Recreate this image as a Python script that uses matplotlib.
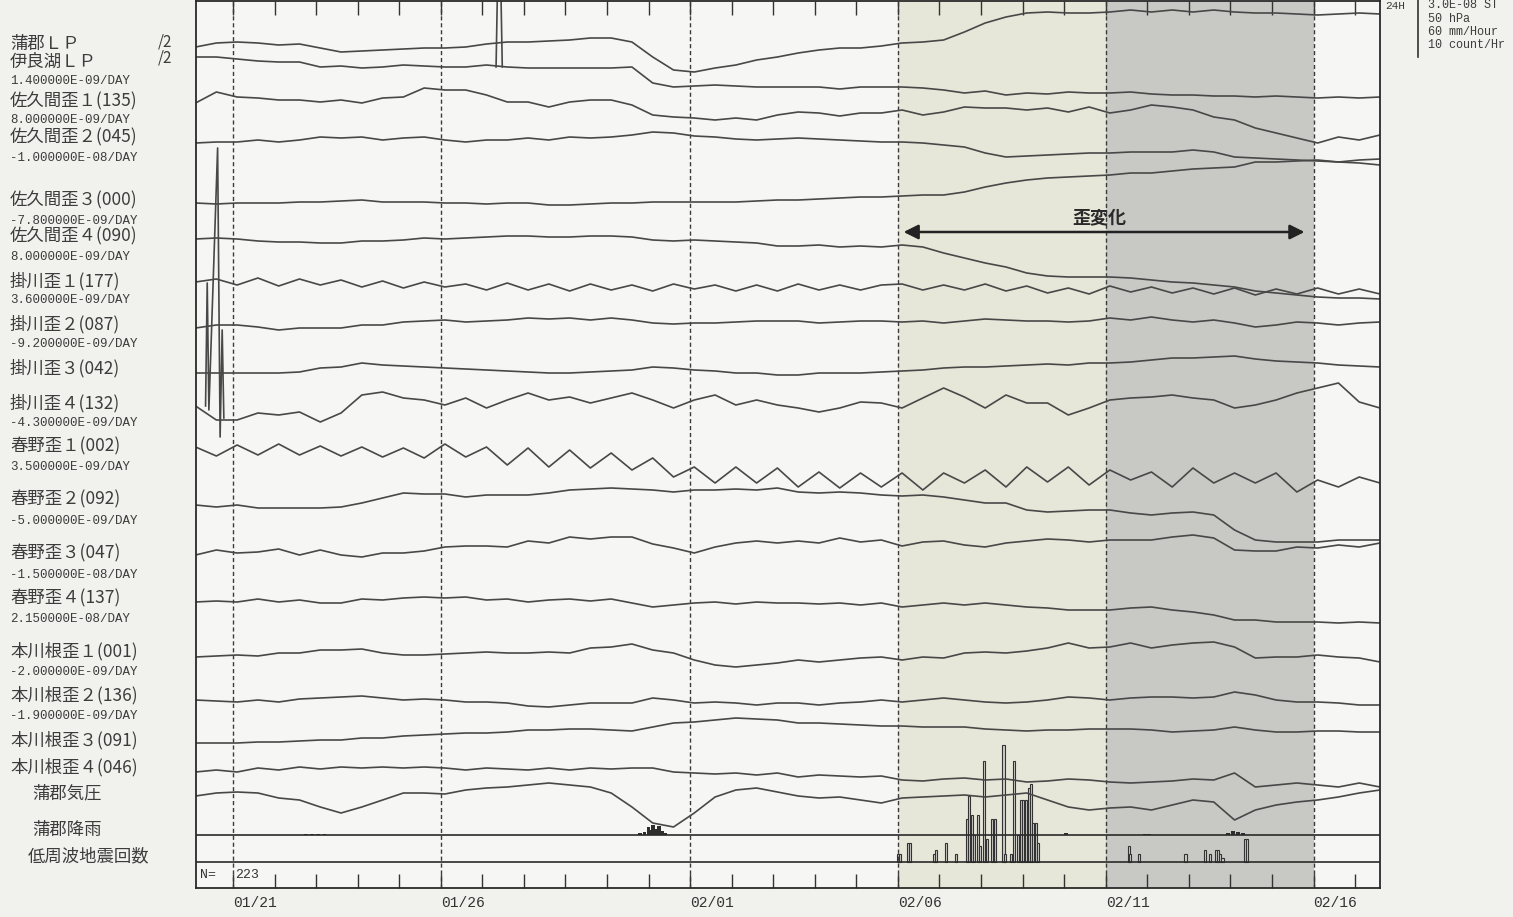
import numpy as np
import matplotlib.pyplot as plt

plt.rcParams['font.family'] = ['Noto Sans CJK JP', 'DejaVu Sans']

# sample times: days after 01/21 00:00, every 12 hours
t = np.arange(58) * 0.5 - 0.9

# trace deflections (upward positive), one list per channel
gama_lp = [0, 4, 5, 4, 2, 3, -1, -5, -4, -3, -2, -1, -1, 0, 3, 5, 5, 6, 7, 9, 9, 5, -10, -23, -25, -21, -18, -13, -10,
           -6, -3, -1, -1, 1, 4, 5, 7, 15, 24, 30, 34, 35, 34, 34, 35, 37, 35, 37, 35, 37, 35, 34, 34, 33, 32, 33, 34, 33]
irago_lp = [3, 3, 1, -1, -2, -2, -7, -6, -8, -7, -5, -6, -7, -7, -5, -7, -8, -8, -8, -8, -8, -7, -23, -27, -26, -25, -26, -27, -27,
            -27, -27, -29, -27, -27, -27, -28, -30, -33, -31, -35, -33, -34, -32, -33, -33, -32, -34, -35, -35, -36, -36, -37, -36, -37, -38, -37, -38, -37]
sakuma1 = [-3, 8, 3, 2, 0, 0, -2, 0, -3, 2, 3, 12, 10, 10, 5, -2, -2, -7, -2, 0, 0, -5, -15, -17, -18, -20, -18, -20, -15,
           -12, -13, -16, -13, -13, -10, -15, -12, -7, -8, -8, -10, -8, -12, -7, -13, -10, -5, -7, -10, -17, -20, -28, -33, -38, -43, -37, -40, -35]
sakuma2 = [0, 1, 1, 3, 1, 3, 6, 5, 6, 3, 5, 6, 3, 1, 3, 3, 5, 3, 6, 5, 6, 8, 11, 10, 7, 6, 4, 3, 4,
           5, 4, 3, 2, 1, 1, 0, -2, -4, -10, -14, -13, -12, -11, -10, -10, -9, -9, -9, -7, -9, -14, -15, -16, -17, -18, -19, -17, -16]
sakuma3 = [-1, -2, -1, -1, -1, 0, 0, 1, 2, 0, 0, 0, -1, -1, -2, -1, -1, -3, -3, -2, -1, -1, 0, 0, 0, 0, 0, 1, 2,
           2, 3, 4, 5, 5, 6, 7, 7, 10, 15, 19, 22, 24, 25, 26, 27, 29, 29, 31, 33, 34, 35, 40, 40, 41, 42, 40, 39, 37]
sakuma4 = [1, 2, 1, -1, -2, -2, -3, -3, -1, -1, 0, 2, 1, 2, 3, 4, 4, 3, 3, 4, 4, 3, 0, -1, 0, -1, -2, -3, -6,
           -6, -5, -7, -6, -7, -5, -7, -13, -18, -23, -27, -33, -36, -37, -37, -37, -38, -40, -42, -43, -45, -47, -51, -53, -55, -57, -58, -58, -59]
kake1 = [0, 3, -3, 4, -4, 3, -3, 2, -5, 1, -6, 0, -5, -2, -8, -1, -8, -2, -9, -2, -8, -3, -9, -2, -7,
         -3, -9, -3, -9, -2, -8, -3, -8, -3, -2, -8, -3, -8, -2, -9, -4, -11, -6, -12, -4,
         -10, -5, -11, -6, -12, -6, -13, -7, -12, -6, -12, -7, -12]
kake2 = [0, 3, 3, 1, -2, 0, 0, 0, 3, 3, 6, 7, 8, 6, 7, 8, 10, 9, 10, 8, 10, 8, 5, 4, 5, 5, 6, 7, 7,
         7, 5, 6, 7, 7, 6, 7, 5, 7, 9, 8, 7, 7, 6, 7, 10, 8, 11, 8, 6, 8, 5, 1, 3, 6, 5, 3, 5, 6]
kake3 = [0, 0, 0, 0, 0, 1, 5, 6, 10, 8, 7, 6, 5, 4, 3, 2, 1, 0, 0, 1, 2, 3, 6, 5, 3, 2, 0, 0, -2,
         -2, 0, 0, 0, 1, 2, 3, 5, 6, 6, 7, 8, 9, 8, 10, 10, 11, 13, 15, 15, 16, 17, 14, 12, 11, 10, 8, 7, 6]
kake4 = [4, -10, -10, -3, -5, -2, -12, -3, 15, 18, 12, 10, 5, 12, 2, 10, 17, 10, 13, 7, 12, 17, 10, 2, 10, 15, 5, 10, 5,
         2, -2, 2, 8, 7, 2, 12, 22, 13, 2, 15, 7, 7, -5, 2, 10, 12, 13, 15, 12, 10, 2, 5, 10, 17, 22, 27, 8, 2]
haruno1 = [3, -6, 5, -5, 6, -5, 4, -6, 3, -7, 2, -8, 6, -7, 3, -15, 2, -17, 0, -18, -3, -20, -8, -27, -17, -33, -17, -33, -18,
           -37, -22, -38, -23, -37, -23, -40, -23, -33, -20, -37, -17, -32, -17, -35, -20, -30, -22, -37, -18, -33, -23, -33, -23, -42, -30, -37, -27, -33]
haruno2 = [0, -2, 0, -3, -3, -3, -3, -2, 2, 7, 12, 11, 11, 8, 10, 10, 10, 12, 15, 16, 17, 16, 15, 13, 15, 15, 16, 15, 17,
           13, 12, 13, 12, 10, 9, 10, 8, 5, 2, 2, -5, -7, -6, -5, -5, -8, -10, -8, -7, -10, -25, -35, -37, -37, -37, -35, -35, -35]
haruno3 = [0, 5, 2, 3, 6, 0, 5, 0, -2, 2, 2, 4, 8, 9, 9, 8, 14, 12, 18, 16, 18, 18, 11, 7, 2, 8, 12, 14, 12,
           14, 12, 17, 13, 15, 9, 13, 14, 10, 8, 12, 14, 16, 15, 13, 15, 15, 15, 18, 20, 17, 5, 4, 4, 8, 7, 10, 8, 12]
haruno4 = [0, 1, 0, 3, 0, 2, -1, -1, 3, 2, 4, 5, 4, 5, 2, 3, 0, 2, 3, 1, 3, -1, -5, -3, -1, 0, -2, 0, -1,
           -1, -2, -1, -3, -1, -5, -3, -1, -3, -1, -3, -5, -6, -8, -8, -8, -6, -5, -8, -10, -13, -18, -18, -20, -20, -20, -21, -20, -21]
hon1 = [0, 1, 2, 1, 4, 4, 7, 7, 8, 4, 2, 2, 3, 4, 5, 4, 4, 5, 4, 9, 10, 13, 7, 4, -3, -8, -10, -8, -6,
        -3, -5, -3, -1, 0, -3, 0, -1, 4, 5, 4, 6, 9, 14, 9, 10, 14, 9, 12, 14, 15, 10, -1, 0, 0, 2, 0, -1, -5]
hon2 = [0, -1, -2, 0, -2, 1, 2, 3, 4, 2, 0, 1, 0, -2, -2, -3, -6, -7, -5, -3, -3, -3, 2, 0, -3, -2, -3, -5, -3,
        -3, -5, -3, -2, 0, -2, 0, 2, 0, -2, -3, -2, 0, 3, 2, 0, 2, 3, 3, 2, 3, 8, 5, 0, -2, -2, -3, -5, -5]
hon3 = [0, 0, 0, 1, 1, 2, 3, 3, 5, 5, 7, 8, 9, 10, 10, 11, 13, 13, 14, 14, 13, 12, 16, 20, 21, 23, 25, 24, 23,
        20, 20, 19, 18, 17, 17, 16, 16, 16, 14, 13, 12, 13, 13, 14, 14, 14, 13, 11, 12, 13, 16, 13, 11, 11, 12, 12, 11, 11]
hon4 = [0, 2, 0, 4, 2, 5, 3, 5, 4, 5, 4, 5, 4, 2, 4, 3, 2, 4, 2, 4, 3, 4, 4, 0, -1, -2, -1, -3, -1,
        -5, -3, -4, -5, -4, -8, -9, -7, -6, -8, -7, -10, -9, -7, -8, -10, -11, -10, -9, -7, -8, -1, -15, -13, -11, -13, -15, -11, -15]
gama_press = [-1, 2, 3, 2, -3, -5, -12, -18, -12, -5, 2, 2, 1, 5, 7, 8, 10, 12, 10, 8, 2, -12, -28, -32, -18, -2, 5, 7, 3,
              -1, -3, -2, -5, -8, -3, -2, -1, 0, -2, 0, 2, -5, -12, -15, -13, -12, -15, -10, -5, -7, -25, -15, -10, -7, -5, -2, 2, 5]

traces = [gama_lp, irago_lp, sakuma1, sakuma2, sakuma3, sakuma4, kake1, kake2, kake3, kake4,
          haruno1, haruno2, haruno3, haruno4, hon1, hon2, hon3, hon4, gama_press]

# off-scale glitch on the Irago LP channel and the pulse across the Kakegawa channels
irago_glitch_t = [6.33, 6.36, 6.45, 6.48]
irago_glitch_v = [-7, 62, 62, -7]
kake_pulse_t = [-0.66, -0.62, -0.58, -0.37, -0.31, -0.26, -0.22]
kake_pulse_v = [4, 127, 0, 262, -27, 80, -8]

# hourly rain (mm) and low-frequency event counts
rain_t = [1.75, 1.9, 2.05, 2.2, 9.8, 9.9, 10.0, 10.05, 10.1, 10.18, 10.25, 10.32, 10.4,
          20.05, 21.95, 22.05, 23.95, 24.07, 24.19, 24.31]
rain_mm = [1, 1, 1, 1, 2, 3, 8, 5, 10, 6, 9, 4, 2, 2, 1, 1, 2, 4, 3, 2]
quake_t = [16.01, 16.06, 16.25, 16.30, 16.88, 16.92, 17.16, 17.39, 17.67, 17.72, 17.78, 17.84, 17.93, 17.98,
           18.08, 18.15, 18.27, 18.34, 18.54, 18.58, 18.73, 18.80, 18.88, 18.96, 19.02, 19.09, 19.16, 19.21,
           19.26, 19.33, 19.38, 21.55, 21.59, 21.81, 22.92, 23.38, 23.52, 23.66, 23.71, 23.76, 23.81, 24.36, 24.41]
quake_n = [2, 2, 5, 5, 2, 3, 5, 2, 11, 17, 12, 7, 12, 4, 26, 6, 11, 11, 30, 2, 2, 26, 7, 16, 16, 16, 19, 20,
           10, 10, 5, 4, 2, 2, 2, 3, 2, 3, 3, 2, 1, 6, 6]
quake_total = 223

date_days = [0, 5, 11, 16, 21, 26]
date_labels = ['01/21', '01/26', '02/01', '02/06', '02/11', '02/16']

left_labels = ['蒲郡ＬＰ', '伊良湖ＬＰ', '1.400000E-09/DAY', '佐久間歪１(135)', '8.000000E-09/DAY',
               '佐久間歪２(045)', '-1.000000E-08/DAY', '佐久間歪３(000)', '-7.800000E-09/DAY',
               '佐久間歪４(090)', '8.000000E-09/DAY', '掛川歪１(177)', '3.600000E-09/DAY',
               '掛川歪２(087)', '-9.200000E-09/DAY', '掛川歪３(042)', '掛川歪４(132)', '-4.300000E-09/DAY',
               '春野歪１(002)', '3.500000E-09/DAY', '春野歪２(092)', '-5.000000E-09/DAY',
               '春野歪３(047)', '-1.500000E-08/DAY', '春野歪４(137)', '2.150000E-08/DAY',
               '本川根歪１(001)', '-2.000000E-09/DAY', '本川根歪２(136)', '-1.900000E-09/DAY',
               '本川根歪３(091)', '本川根歪４(046)']
scale_labels = ['3.0E-08 ST', '50 hPa', '60 mm/Hour', '10 count/Hr']

# ---- layout (pixels of the 1513x917 canvas) ----
W, H = 1513, 917
row_y = [47, 60, 100, 143, 202, 240, 282, 328, 373, 410, 450, 505, 555, 602, 657, 700, 743, 772, 795]
left_label_y = [44, 62, 81, 101, 120, 137, 158, 200, 221, 236, 257, 281, 300, 324, 344, 368, 403, 423,
                446, 467, 499, 521, 553, 575, 598, 619, 651, 672, 695, 716, 740, 767]
rain_base, quake_base = 835, 862
rain_px, quake_px = 1.0, 3.9

ink = '#484848'
label_ink = '#3c3c3c'
fig = plt.figure(figsize=(W / 100, H / 100), dpi=100, facecolor='#f1f1ee')
ax = fig.add_axes([196 / W, 1 - 888 / H, (1380 - 196) / W, 887 / H])
ax.set_facecolor('#f6f6f4')
ax.set_xlim(-0.89, 27.6)
ax.set_ylim(888, 1)

ax.axvspan(16, 21, color='#e6e7d8', lw=0)
ax.axvspan(21, 26, color='#c8c8c5', lw=0)
for d in date_days:
    ax.axvline(d, color='#3a3a3a', lw=1.0, ls=(0, (3, 2)))

ax.axhline(rain_base, color='#2a2a2a', lw=1.2)
ax.axhline(quake_base, color='#2a2a2a', lw=1.2)

for base, vals in zip(row_y, traces):
    ax.plot(t, base - np.array(vals), color=ink, lw=1.2)
ax.plot(irago_glitch_t, row_y[1] - np.array(irago_glitch_v), color=ink, lw=1.2)
ax.plot(kake_pulse_t, row_y[9] - np.array(kake_pulse_v), color=ink, lw=1.2)

ax.bar(rain_t, -np.array(rain_mm) * rain_px, bottom=rain_base, width=0.09, color='#2e2e2e', lw=0)
ax.bar(quake_t, -np.array(quake_n) * quake_px, bottom=quake_base, width=0.05,
       facecolor='#cfcfca', edgecolor='#333333', lw=0.8)

ax.annotate('', xy=(25.85, 232), xytext=(16.07, 232),
            arrowprops=dict(arrowstyle='<|-|>', color='#222222', lw=1.8, mutation_scale=22))
ax.text(20.85, 218, '歪変化', ha='center', va='center', fontsize=13, fontweight='bold', color='#2a2a2a')

ax.text(-0.8, 875, 'N=', ha='left', va='center', fontsize=9.5, family='Liberation Mono', color='#333')
ax.text(0.06, 875, str(quake_total), ha='left', va='center', fontsize=9.5, family='Liberation Mono', color='#333')

ax.set_yticks([])
ax.set_xticks(range(0, 28))
ax.set_xticklabels([date_labels[date_days.index(d)] if d in date_days else '' for d in range(0, 28)],
                   ha='left', fontsize=10.5, family='Liberation Mono', color='#333')
ax.tick_params(axis='x', direction='in', length=10, width=1, top=True, bottom=True, color='#333', pad=6)
for s in ax.spines.values():
    s.set_color('#2a2a2a')
    s.set_linewidth(1.3)

# channel names on the left
for txt, y in zip(left_labels, left_label_y):
    mono = 'DAY' in txt
    fig.text(10 / W, 1 - y / H, txt, ha='left', va='center', color=label_ink,
             fontsize=9 if mono else 12.5, family='Liberation Mono' if mono else None)
fig.text(158 / W, 1 - 42 / H, '/2', ha='left', va='center', fontsize=11, color=label_ink)
fig.text(158 / W, 1 - 58 / H, '/2', ha='left', va='center', fontsize=11, color=label_ink)
fig.text(32 / W, 1 - 793 / H, '蒲郡気圧', ha='left', va='center', fontsize=12.5, color=label_ink)
fig.text(32 / W, 1 - 830 / H, '蒲郡降雨', ha='left', va='center', fontsize=12.5, color=label_ink)
fig.text(28 / W, 1 - 856 / H, '低周波地震回数', ha='left', va='center', fontsize=12.5, color=label_ink)

# scale notes at the top right
fig.text(1385 / W, 1 - 6 / H, '24H', ha='left', va='center', fontsize=8,
         family='Liberation Mono', color=label_ink)
for i, s in enumerate(scale_labels):
    fig.text(1428 / W, 1 - (5 + 13.5 * i) / H, s, ha='left', va='center', fontsize=8.5,
             family='Liberation Mono', color=label_ink)
fig.add_artist(plt.Line2D([1418 / W, 1418 / W], [1, 1 - 57 / H], color='#333', lw=1.2))

fig.savefig('out.png', dpi=100, facecolor=fig.get_facecolor())
